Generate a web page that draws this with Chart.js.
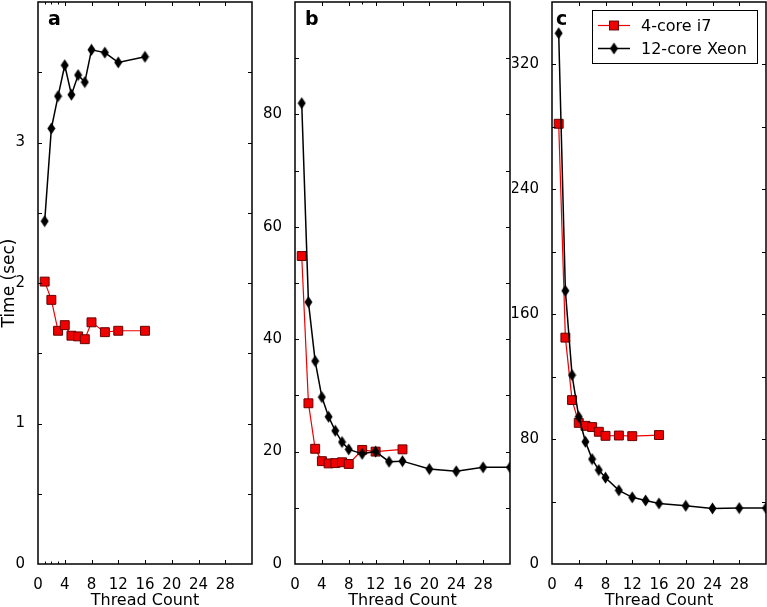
<!DOCTYPE html>
<html><head><meta charset="utf-8">
<script src="https://cdn.jsdelivr.net/npm/chart.js@4"></script>
<style>
html,body{margin:0;padding:0;background:#fff;}
#wrap{position:relative;width:767px;height:607px;overflow:hidden;background:#fff;}
canvas{position:absolute;top:0;}
</style></head><body>
<div id="wrap">
<canvas id="pa" width="256" height="612" style="left:0px"></canvas>
<canvas id="pb" width="256" height="612" style="left:256px"></canvas>
<canvas id="pc" width="255" height="612" style="left:512px"></canvas>
</div>
<script>
// ---- data ----
const seriesNames = ['4-core i7', '12-core Xeon'];
const threadsA = [1, 2, 3, 4, 5, 6, 7, 8, 10, 12, 16];
const threadsI7 = [1, 2, 3, 4, 5, 6, 7, 8, 10, 12, 16];
const threadsXeon = [1, 2, 3, 4, 5, 6, 7, 8, 10, 12, 14, 16, 20, 24, 28, 32];

const aI7   = [2.01, 1.88, 1.66, 1.70, 1.625, 1.62, 1.60, 1.72, 1.65, 1.66, 1.66];
const aXeon = [2.44, 3.10, 3.33, 3.55, 3.34, 3.48, 3.43, 3.66, 3.64, 3.57, 3.61];

const bI7   = [54.8, 28.6, 20.5, 18.3, 17.9, 17.95, 18.1, 17.8, 20.3, 20.0, 20.4];
const bXeon = [82.0, 46.6, 36.1, 29.7, 26.2, 23.7, 21.7, 20.4, 19.6, 20.0, 18.2, 18.3, 16.9, 16.5, 17.2, 17.2];

const cI7   = [282, 145, 105, 90.4, 88.5, 87.7, 84.7, 82.1, 82.3, 81.9, 82.6];
const cXeon = [340, 175, 121, 94.3, 78.3, 67.2, 60.2, 55.3, 47.2, 42.7, 40.7, 38.8, 37.3, 35.6, 35.8, 35.8];

const xTickStep = 4;
const minorXa = [1, 2, 3];
const minorXb = [10];
const minorXc = [];

// ---- styling ----
Chart.defaults.font.family = '"DejaVu Sans", sans-serif';
Chart.defaults.color = '#000';

function makeDiamond() {
  const c = document.createElement('canvas');
  c.width = 9; c.height = 13;
  const g = c.getContext('2d');
  g.fillStyle = '#000';
  g.beginPath();
  g.moveTo(4.5, 0.5); g.lineTo(8.5, 6.5); g.lineTo(4.5, 12.5); g.lineTo(0.5, 6.5); g.closePath();
  g.fill();
  return c;
}
const diamond = makeDiamond();

function pts(xs, ys) { return xs.map((x, i) => ({x: x, y: ys[i]})); }

function i7Dataset(xs, ys) {
  return {
    label: seriesNames[0], data: pts(xs, ys), order: 1,
    borderColor: '#ee0000', borderWidth: 1.2, backgroundColor: '#ee0000',
    pointStyle: 'rect', pointRadius: 6.3, pointHoverRadius: 6.3,
    pointBackgroundColor: '#f00000', pointBorderColor: '#6a0000', pointBorderWidth: 1,
    tension: 0, fill: false
  };
}
function xeonDataset(xs, ys) {
  return {
    label: seriesNames[1], data: pts(xs, ys), order: 0,
    borderColor: '#000', borderWidth: 1.5, backgroundColor: '#000',
    pointStyle: diamond, pointRadius: 6, pointHoverRadius: 6,
    tension: 0, fill: false
  };
}

function drawMarker(ctx, ds, x, y) {
  if (ds.pointStyle === 'rect') {
    const s = Math.SQRT1_2 * ds.pointRadius;
    ctx.fillStyle = ds.pointBackgroundColor;
    ctx.strokeStyle = ds.pointBorderColor;
    ctx.lineWidth = ds.pointBorderWidth;
    ctx.fillRect(x - s, y - s, 2 * s, 2 * s);
    ctx.strokeRect(x - s, y - s, 2 * s, 2 * s);
  } else {
    ctx.drawImage(ds.pointStyle, x - ds.pointStyle.width / 2, y - ds.pointStyle.height / 2);
  }
}

const panelDeco = {
  id: 'panelDeco',
  afterDatasetsDraw(chart, args, o) {
    const ctx = chart.ctx, ca = chart.chartArea;
    const xs = chart.scales.x, ys = chart.scales.y;
    ctx.save();
    ctx.strokeStyle = '#000';
    ctx.lineWidth = 1;
    const seg = (x1, y1, x2, y2) => { ctx.beginPath(); ctx.moveTo(x1, y1); ctx.lineTo(x2, y2); ctx.stroke(); };
    xs.ticks.forEach(t => {
      if (t.value <= xs.min || t.value >= xs.max) return;
      const p = Math.round(xs.getPixelForValue(t.value)) + 0.5;
      seg(p, ca.bottom, p, ca.bottom - 4); seg(p, ca.top, p, ca.top + 4);
    });
    (o.minorX || []).forEach(v => {
      const p = Math.round(xs.getPixelForValue(v)) + 0.5;
      seg(p, ca.bottom, p, ca.bottom - 2.5); seg(p, ca.top, p, ca.top + 2.5);
    });
    ys.ticks.forEach(t => {
      if (t.value <= ys.min || t.value >= ys.max) return;
      const p = Math.round(ys.getPixelForValue(t.value)) + 0.5;
      seg(ca.left, p, ca.left + 4, p); seg(ca.right, p, ca.right - 4, p);
    });
    ctx.lineWidth = 1.5;
    ctx.strokeRect(ca.left, ca.top, ca.right - ca.left, ca.bottom - ca.top);

    ctx.font = 'bold 19px "DejaVu Sans"';
    ctx.fillStyle = '#000';
    ctx.textAlign = 'left';
    ctx.textBaseline = 'alphabetic';
    ctx.fillText(o.letter, ca.left + o.letterDx, ca.top + 23);

    if (o.legend) {
      const bx = ca.right - 174, by = ca.top + 8, bw = 165, bh = 53;
      ctx.fillStyle = '#fff';
      ctx.fillRect(bx, by, bw, bh);
      ctx.lineWidth = 1;
      ctx.strokeStyle = '#000';
      ctx.strokeRect(bx + 0.5, by + 0.5, bw, bh);
      const rows = [chart.data.datasets[0], chart.data.datasets[1]];
      ctx.font = '16px "DejaVu Sans"';
      ctx.textBaseline = 'middle';
      rows.forEach((ds, i) => {
        const cy = by + 15.5 + i * 23;
        ctx.strokeStyle = ds.borderColor;
        ctx.lineWidth = ds.borderWidth;
        seg(bx + 6, cy, bx + 38, cy);
        drawMarker(ctx, ds, bx + 22, cy);
        ctx.fillStyle = '#000';
        ctx.fillText(ds.label, bx + 49, cy + 1);
      });
    }
    ctx.restore();
  }
};

function makePanel(id, p) {
  new Chart(document.getElementById(id), {
    type: 'line',
    data: { datasets: [i7Dataset(threadsI7, p.i7), xeonDataset(p.xeonX, p.xeon)] },
    plugins: [panelDeco],
    options: {
      responsive: false, animation: false, devicePixelRatio: 1,
      events: [],
      layout: { autoPadding: false, padding: { top: 2, left: 0, right: p.padRight, bottom: 0 } },
      plugins: {
        legend: { display: false }, tooltip: { enabled: false },
        panelDeco: { letter: p.letter, letterDx: p.letterDx, minorX: p.minorX, legend: p.legend }
      },
      scales: {
        x: {
          type: 'linear', min: 0, max: 32,
          grid: { display: false }, border: { display: false },
          ticks: {
            stepSize: xTickStep, autoSkip: false, maxRotation: 0, padding: 4,
            font: { size: 15 },
            callback: v => (v < 32 ? String(v) : '')
          },
          title: { display: true, text: 'Thread Count', font: { size: 16 }, padding: { top: 0, bottom: 2 } },
          afterFit: s => { s.height = 48; s.paddingLeft = 0; s.paddingRight = 0; }
        },
        y: {
          type: 'linear', min: 0, max: p.ymax,
          grid: { display: false }, border: { display: false },
          ticks: {
            stepSize: p.ystep, autoSkip: false, padding: 5,
            font: { size: 15 },
            callback: v => (Math.abs(v / p.ylabel - Math.round(v / p.ylabel)) < 1e-9 && v < p.ymax ? String(v) : '')
          },
          title: { display: !!p.ytitle, text: p.ytitle || '', font: { size: 17 }, padding: { top: -1, bottom: 0 } },
          afterFit: s => { s.width = p.yw; s.paddingTop = 0; s.paddingBottom = 0; }
        }
      }
    }
  });
}

makePanel('pa', { i7: aI7, xeonX: threadsA, xeon: aXeon, ymax: 4, ystep: 0.5, ylabel: 1,
  yw: 38, padRight: 4, letter: 'a', letterDx: 10, minorX: minorXa, ytitle: 'Time (sec)' });
makePanel('pb', { i7: bI7, xeonX: threadsXeon, xeon: bXeon, ymax: 100, ystep: 10, ylabel: 20,
  yw: 39, padRight: 2, letter: 'b', letterDx: 10, minorX: minorXb });
makePanel('pc', { i7: cI7, xeonX: threadsXeon, xeon: cXeon, ymax: 360, ystep: 40, ylabel: 80,
  yw: 40, padRight: 1, letter: 'c', letterDx: 4, minorX: minorXc, legend: true });
</script>
</body></html>
